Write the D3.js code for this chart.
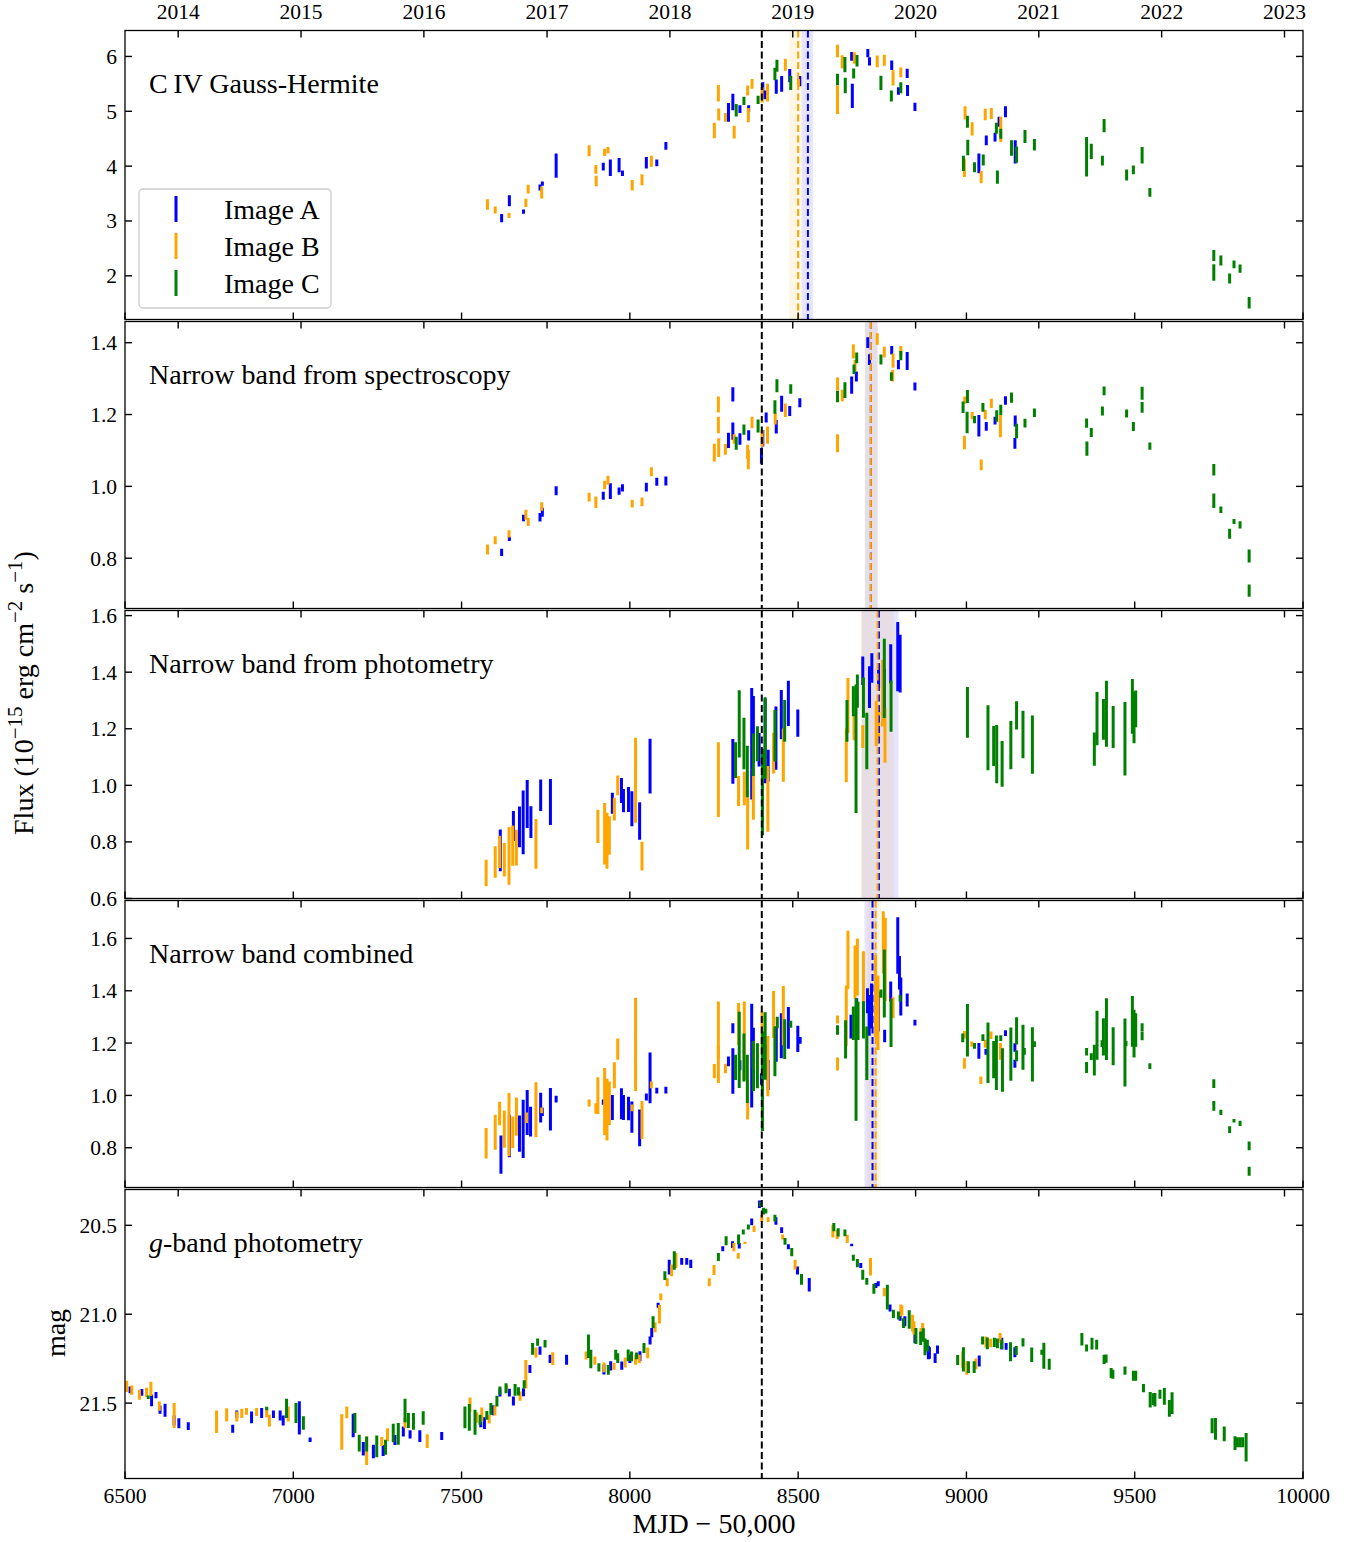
<!DOCTYPE html>
<html><head><meta charset="utf-8">
<script src="https://cdn.jsdelivr.net/npm/d3@7"></script>
<style>
body{margin:0;background:#fff}
svg{display:block}
text{font-family:"Liberation Serif","Times New Roman",serif;fill:#000}
</style></head>
<body><svg id="c" width="1357" height="1542"></svg>
<script>
// ---------- DATA: [MJD-50000, value, error] ----------
const civA=[[7619,3.05,.075],[7642,3.37,.1],[7684,3.17,.04],[7733,3.61,.055],[7740,3.68,.04],[7781,4.01,.22],[7921,3.99,.07],[7942,3.97,.15],[7968,4.02,.13],[7978,3.87,.05],[8049,4.06,.105],[8080,4.06,.06],[8107,4.37,.07],[8293,4.98,.17],[8306,5.17,.15],[8327,5.04,.07],[8353,5.05,.06],[8395,5.38,.15],[8401,5.30,.08],[8435,5.45,.13],[8451,5.50,.145],[8475,5.65,.12],[8505,5.55,.095],[8659,6.0,.08],[8661,5.28,.22],[8707,6.06,.075],[8712,5.91,.075],[8778,5.84,.085],[8798,5.37,.07],[8824,5.69,.085],[8825,5.38,.1],[8847,5.08,.075],[9037,4.05,.18],[9059,4.47,.09],[9085,4.53,.08],[9097,4.81,.09],[9116,4.99,.1],[9145,4.26,.21]];
const civB=[[7577,3.30,.095],[7600,3.20,.065],[7641,3.10,.045],[7691,3.33,.075],[7698,3.58,.08],[7738,3.52,.11],[7879,4.28,.1],[7899,3.94,.08],[7900,3.73,.095],[7925,4.25,.067],[7935,4.29,.06],[8007,3.65,.095],[8036,3.75,.1],[8064,4.09,.1],[8251,4.65,.14],[8263,5.33,.15],[8264,4.94,.11],[8284,4.89,.08],[8310,4.62,.115],[8350,5.38,.09],[8352,4.93,.13],[8363,5.50,.09],[8393,5.30,.14],[8409,5.34,.16],[8462,5.85,.11],[8501,5.52,.07],[8617,6.10,.115],[8617,5.21,.26],[8631,5.90,.12],[8667,5.97,.105],[8735,5.91,.105],[8756,5.93,.1],[8782,5.61,.14],[8805,5.71,.09],[8994,3.97,.17],[8996,4.97,.12],[9017,4.68,.12],[9044,3.80,.11],[9056,4.94,.105],[9074,4.96,.1],[9102,4.67,.23]];
const civC=[[8316,5.02,.115],[8339,5.19,.075],[8381,5.21,.075],[8431,5.68,.115],[8437,5.83,.11],[8478,5.52,.13],[8617,5.58,.105],[8639,5.85,.14],[8640,5.47,.14],[8665,5.69,.09],[8675,5.92,.105],[8746,5.52,.13],[8777,5.28,.1],[8805,5.43,.1],[8991,4.05,.14],[9003,4.81,.11],[9004,4.34,.14],[9024,3.98,.09],[9050,4.11,.1],[9089,4.69,.1],[9092,3.80,.12],[9102,4.59,.09],[9134,4.33,.14],[9149,4.21,.15],[9174,4.54,.12],[9202,4.39,.105],[9357,4.17,.36],[9371,4.27,.14],[9404,4.10,.09],[9409,4.74,.12],[9476,3.84,.1],[9496,3.93,.08],[9522,4.20,.15],[9545,3.52,.08],[9735,2.37,.1],[9735,2.06,.15],[9756,2.28,.09],[9782,1.95,.09],[9795,2.21,.07],[9813,2.13,.075],[9840,1.51,.105]];

const specA=[[7619,0.816,.01],[7642,0.854,.006],[7684,0.912,.009],[7733,0.914,.012],[7740,0.928,.0125],[7781,0.988,.0125],[7921,0.974,.011],[7942,0.987,.022],[7968,0.987,.01],[7978,0.996,.01],[8049,0.998,.012],[8080,1.013,.011],[8107,1.015,.0125],[8293,1.128,.021],[8306,1.256,.02],[8306,1.154,.024],[8327,1.132,.016],[8353,1.142,.014],[8391,1.085,.022],[8395,1.134,.023],[8405,1.192,.014],[8435,1.166,.019],[8451,1.23,.022],[8475,1.21,.014],[8505,1.233,.0125],[8659,1.282,.024],[8673,1.306,.014],[8707,1.40,.015],[8712,1.353,.015],[8778,1.379,.012],[8798,1.339,.013],[8824,1.349,.025],[8847,1.278,.011],[9037,1.169,.03],[9059,1.167,.012],[9085,1.183,.011],[9116,1.239,.012],[9145,1.182,.015],[9144,1.12,.015]];
const specB=[[7577,0.824,.014],[7600,0.85,.011],[7641,0.868,.01],[7691,0.921,.014],[7698,0.901,.011],[7738,0.944,.012],[7879,0.97,.012],[7899,0.956,.016],[7925,1.004,.012],[7935,1.017,.0125],[8007,0.952,.011],[8036,0.957,.012],[8064,1.041,.0125],[8251,1.094,.025],[8263,1.228,.022],[8263,1.171,.023],[8264,1.108,.026],[8284,1.103,.015],[8310,1.132,.013],[8350,1.096,.02],[8352,1.075,.027],[8363,1.178,.016],[8393,1.134,.023],[8409,1.143,.024],[8432,1.188,.016],[8462,1.212,.019],[8617,1.285,.018],[8617,1.12,.025],[8631,1.253,.016],[8664,1.376,.02],[8669,1.336,.016],[8735,1.41,.016],[8756,1.374,.015],[8781,1.308,.016],[8782,1.35,.02],[8805,1.378,.013],[8994,1.122,.019],[8995,1.24,.01],[9017,1.197,.01],[9044,1.06,.015],[9056,1.20,.013],[9074,1.231,.013],[9101,1.168,.031]];
const specC=[[8316,1.12,.018],[8339,1.158,.014],[8381,1.168,.018],[8431,1.221,.019],[8437,1.28,.018],[8478,1.271,.013],[8617,1.25,.016],[8639,1.268,.022],[8666,1.326,.013],[8674,1.358,.015],[8746,1.353,.014],[8777,1.306,.012],[8805,1.364,.013],[8990,1.22,.016],[9002,1.178,.03],[9003,1.25,.018],[9024,1.186,.01],[9049,1.22,.012],[9090,1.196,.016],[9102,1.213,.014],[9134,1.247,.014],[9149,1.154,.02],[9174,1.176,.012],[9202,1.205,.012],[9357,1.176,.013],[9358,1.105,.02],[9371,1.15,.0125],[9404,1.21,.0125],[9409,1.266,.012],[9476,1.203,.011],[9496,1.167,.0125],[9522,1.259,.018],[9522,1.22,.015],[9545,1.112,.01],[9735,1.046,.016],[9735,0.96,.02],[9756,0.935,.009],[9782,0.868,.014],[9795,0.902,.007],[9813,0.893,.01],[9840,0.806,.018],[9840,0.71,.017]];

const photA=[[7615,0.77,.074],[7654,0.856,.053],[7672,0.853,.072],[7683,0.869,.113],[7695,0.934,.085],[7706,0.87,.056],[7735,0.965,.056],[7764,0.941,.081],[7948,0.937,.037],[7975,0.982,.044],[7981,0.946,.041],[7996,0.95,.044],[8006,0.917,.062],[8029,0.874,.066],[8060,1.068,.097],[8306,1.085,.079],[8362,1.147,.197],[8367,1.198,.118],[8384,1.126,.059],[8402,1.157,.15],[8411,1.07,.056],[8434,1.167,.112],[8450,1.25,.087],[8471,1.29,.08],[8499,1.22,.048],[8692,1.405,.05],[8712,1.347,.074],[8719,1.415,.052],[8739,1.386,.041],[8756,1.327,.085],[8775,1.43,.069],[8796,1.455,.122],[8803,1.43,.102]];
const photB=[[7573,0.69,.047],[7600,0.729,.056],[7613,0.765,.057],[7627,0.737,.059],[7641,0.751,.102],[7652,0.787,.071],[7663,0.78,.063],[7721,0.793,.088],[7905,0.855,.059],[7925,0.829,.109],[7932,0.804,.099],[7939,0.823,.068],[7954,0.916,.04],[7964,1.0,.035],[8017,1.018,.15],[8036,0.75,.051],[8263,1.02,.132],[8323,0.98,.053],[8340,0.989,.059],[8350,0.876,.103],[8367,0.969,.091],[8410,0.952,.116],[8427,1.114,.072],[8456,1.107,.094],[8643,1.106,.095],[8648,1.282,.097],[8666,1.206,.047],[8692,1.172,.04],[8732,1.218,.08],[8739,1.216,.059],[8751,1.326,.118],[8758,1.177,.097]];
const photC=[[8314,1.089,.063],[8325,1.217,.119],[8339,1.148,.091],[8349,1.049,.091],[8367,1.108,.075],[8379,1.147,.062],[8394,0.976,.152],[8402,1.167,.144],[8431,1.175,.091],[8460,1.228,.074],[8645,1.228,.074],[8664,1.297,.053],[8672,1.129,.227],[8676,1.333,.059],[8694,1.31,.071],[8704,1.157,.1],[8756,1.378,.14],[8776,1.28,.091],[9003,1.258,.09],[9064,1.168,.115],[9081,1.139,.071],[9090,1.11,.103],[9106,1.076,.081],[9132,1.142,.085],[9149,1.247,.05],[9168,1.18,.084],[9196,1.144,.103],[9380,1.128,.059],[9388,1.236,.094],[9407,1.233,.072],[9416,1.253,.117],[9436,1.206,.074],[9471,1.165,.13],[9493,1.279,.097],[9498,1.24,.091],[9503,1.27,.065]];

const combA=[[7617,0.774,.073],[7642,0.845,.081],[7672,0.854,.069],[7683,0.872,.111],[7695,0.935,.086],[7705,0.9,.057],[7735,0.953,.057],[7740,0.937,.016],[7764,0.947,.081],[7781,0.986,.013],[7921,0.974,.01],[7948,0.954,.048],[7975,0.968,.059],[7981,0.954,.048],[7996,0.95,.045],[8006,0.917,.06],[8029,0.876,.07],[8049,0.994,.013],[8060,1.067,.097],[8080,1.018,.011],[8107,1.02,.013],[8293,1.13,.019],[8306,1.257,.019],[8306,1.093,.087],[8327,1.115,.019],[8362,1.152,.198],[8367,1.138,.121],[8391,1.063,.022],[8402,1.13,.064],[8411,1.078,.057],[8435,1.196,.067],[8450,1.228,.086],[8471,1.258,.08],[8499,1.216,.05],[8506,1.21,.013],[8657,1.263,.045],[8674,1.32,.051],[8706,1.362,.048],[8711,1.306,.078],[8718,1.342,.086],[8738,1.32,.076],[8757,1.227,.024],[8775,1.397,.038],[8796,1.573,.108],[8801,1.469,.064],[8805,1.378,.073],[8824,1.365,.025],[8847,1.278,.011],[9037,1.17,.03],[9058,1.166,.011],[9116,1.238,.011],[9144,1.183,.016],[9144,1.121,.015]];
const combB=[[7573,0.817,.058],[7600,0.859,.067],[7613,0.931,.045],[7627,0.871,.071],[7641,0.888,.121],[7652,0.859,.06],[7663,0.919,.073],[7693,0.915,.02],[7721,0.945,.105],[7738,0.943,.011],[7879,0.971,.013],[7899,0.95,.02],[7905,0.999,.07],[7925,0.977,.128],[7932,0.946,.118],[7939,0.97,.083],[7954,1.077,.05],[7964,1.177,.041],[8007,0.952,.013],[8017,1.195,.178],[8036,0.906,.073],[8064,1.04,.013],[8251,1.093,.027],[8263,1.252,.107],[8263,1.12,.073],[8284,1.103,.018],[8323,1.273,.08],[8340,1.209,.15],[8350,0.984,.076],[8367,1.155,.051],[8393,1.238,.083],[8410,1.112,.115],[8427,1.309,.09],[8456,1.305,.113],[8617,1.29,.015],[8617,1.12,.025],[8643,1.305,.115],[8648,1.518,.111],[8669,1.471,.102],[8676,1.491,.109],[8694,1.401,.15],[8730,1.379,.156],[8737,1.316,.142],[8753,1.585,.119],[8759,1.52,.159],[8782,1.335,.04],[8994,1.232,.014],[8994,1.122,.02],[9016,1.196,.01],[9043,1.058,.014],[9056,1.197,.015],[9073,1.23,.014],[9101,1.168,.032]];
const combC=[[8314,1.107,.048],[8325,1.174,.146],[8339,1.145,.092],[8349,1.063,.092],[8367,1.112,.095],[8379,1.113,.086],[8394,1.054,.19],[8402,1.189,.129],[8431,1.168,.095],[8438,1.279,.022],[8460,1.215,.076],[8478,1.272,.013],[8617,1.25,.018],[8641,1.214,.073],[8664,1.276,.064],[8672,1.137,.234],[8678,1.285,.073],[8694,1.289,.071],[8704,1.161,.102],[8746,1.389,.016],[8756,1.428,.13],[8776,1.277,.092],[8803,1.371,.013],[8989,1.22,.017],[9003,1.249,.1],[9024,1.189,.011],[9049,1.221,.013],[9064,1.163,.116],[9081,1.137,.071],[9089,1.125,.104],[9102,1.219,.011],[9107,1.097,.083],[9132,1.158,.102],[9149,1.247,.052],[9149,1.152,.021],[9168,1.184,.086],[9172,1.168,.013],[9196,1.157,.104],[9202,1.196,.011],[9357,1.167,.014],[9357,1.107,.021],[9371,1.148,.013],[9380,1.135,.059],[9388,1.23,.094],[9403,1.198,.013],[9407,1.224,.071],[9416,1.253,.118],[9436,1.188,.073],[9471,1.164,.13],[9474,1.198,.01],[9493,1.283,.097],[9498,1.236,.091],[9503,1.25,.064],[9522,1.26,.016],[9522,1.227,.016],[9545,1.112,.011],[9735,1.045,.017],[9735,0.96,.019],[9756,0.935,.01],[9782,0.869,.013],[9795,0.903,.007],[9813,0.893,.01],[9840,0.807,.017],[9840,0.71,.017]];

const gA=[[6515,21.425,.019],[6550,21.44,.019],[6579,21.485,.033],[6592,21.455,.017],[6604,21.537,.023],[6619,21.54,.037],[6646,21.598,.028],[6660,21.613,.028],[6688,21.629,.022],[6820,21.644,.023],[6832,21.563,.021],[6876,21.58,.033],[6906,21.556,.028],[6941,21.563,.021],[6961,21.57,.028],[6970,21.598,.028],[7018,21.583,.094],[7050,21.706,.013],[7178,21.626,.066],[7208,21.757,.038],[7238,21.772,.038],[7267,21.767,.031],[7302,21.707,.028],[7327,21.66,.028],[7347,21.676,.023],[7376,21.686,.033],[7441,21.685,.023],[7557,21.62,.016],[7568,21.613,.033],[7594,21.54,.028],[7614,21.441,.022],[7642,21.441,.022],[7654,21.488,.025],[7684,21.439,.023],[7703,21.308,.023],[7733,21.205,.023],[7763,21.251,.023],[7812,21.256,.028],[7923,21.311,.028],[7943,21.29,.026],[7976,21.289,.023],[8000,21.251,.023],[8030,21.236,.028],[8060,21.148,.023],[8065,21.104,.026],[8084,20.95,.014],[8117,20.735,.042],[8154,20.703,.019],[8169,20.703,.019],[8181,20.717,.023],[8276,20.632,.014],[8305,20.609,.019],[8325,20.615,.016],[8362,20.48,.019],[8385,20.382,.021],[8434,20.476,.021],[8451,20.527,.016],[8471,20.621,.014],[8498,20.754,.023],[8533,20.834,.038],[8659,20.611,.007],[8686,20.726,.014],[8731,20.839,.014],[8738,20.829,.014],[8773,20.965,.019],[8803,21.02,.017],[8817,21.04,.028],[8847,21.13,.033],[8887,21.215,.038],[8890,21.218,.032],[8907,21.247,.028],[8914,21.199,.023],[9038,21.263,.031],[9105,21.166,.033],[9118,21.181,.019],[9144,21.214,.028]];
const gB=[[6505,21.406,.032],[6520,21.427,.026],[6543,21.453,.028],[6564,21.44,.026],[6577,21.42,.04],[6602,21.517,.026],[6646,21.57,.07],[6772,21.605,.063],[6802,21.566,.037],[6832,21.575,.028],[6847,21.558,.026],[6861,21.547,.019],[6891,21.55,.023],[6921,21.556,.023],[6929,21.598,.033],[6985,21.561,.042],[7144,21.662,.1],[7159,21.552,.033],[7218,21.768,.08],[7263,21.716,.025],[7280,21.678,.037],[7332,21.613,.028],[7398,21.714,.039],[7525,21.51,.041],[7545,21.581,.03],[7560,21.563,.039],[7582,21.59,.025],[7599,21.542,.028],[7634,21.415,.019],[7674,21.46,.026],[7691,21.338,.08],[7721,21.215,.028],[7771,21.25,.036],[7870,21.232,.023],[7896,21.261,.023],[7923,21.299,.028],[7953,21.293,.019],[7986,21.272,.028],[8017,21.256,.028],[8028,21.251,.023],[8053,21.217,.03],[8075,21.074,.028],[8088,21.0,.052],[8092,20.902,.019],[8111,20.82,.023],[8124,20.754,.033],[8137,20.698,.042],[8236,20.82,.023],[8250,20.751,.028],[8309,20.623,.023],[8322,20.672,.016],[8342,20.599,.006],[8369,20.52,.017],[8392,20.461,.02],[8411,20.468,.013],[8454,20.566,.014],[8491,20.721,.028],[8603,20.534,.034],[8616,20.551,.026],[8646,20.576,.023],[8715,20.733,.049],[8756,20.876,.023],[8805,20.979,.033],[8808,20.978,.028],[8840,21.05,.047],[8844,21.078,.038],[8865,21.106,.028],[8870,21.097,.047],[8989,21.256,.047],[9001,21.303,.038],[9028,21.279,.03],[9058,21.156,.031],[9072,21.162,.024],[9100,21.134,.028]];
const gC=[[6569,21.467,.01],[6921,21.53,.01],[6980,21.53,.054],[7008,21.556,.056],[7030,21.612,.038],[7183,21.612,.056],[7196,21.725,.047],[7218,21.73,.042],[7248,21.743,.061],[7274,21.748,.042],[7297,21.668,.052],[7312,21.673,.061],[7332,21.542,.066],[7342,21.598,.042],[7357,21.603,.047],[7386,21.584,.038],[7510,21.58,.061],[7523,21.58,.075],[7540,21.608,.07],[7555,21.594,.028],[7575,21.569,.025],[7587,21.532,.033],[7605,21.489,.03],[7614,21.43,.023],[7632,21.416,.028],[7659,21.425,.033],[7669,21.434,.023],[7686,21.394,.023],[7711,21.195,.033],[7726,21.157,.021],[7748,21.166,.021],[7877,21.18,.066],[7884,21.252,.052],[7908,21.299,.023],[7936,21.313,.028],[7958,21.228,.028],[7964,21.247,.028],[7995,21.232,.033],[8005,21.237,.028],[8020,21.234,.019],[8042,21.19,.028],[8069,21.045,.033],[8104,20.783,.025],[8132,20.698,.052],[8263,20.678,.022],[8286,20.587,.025],[8323,20.58,.028],[8337,20.537,.014],[8352,20.51,.014],[8388,20.38,.014],[8397,20.42,.019],[8404,20.42,.013],[8431,20.459,.019],[8461,20.59,.019],[8481,20.651,.023],[8510,20.804,.03],[8606,20.51,.023],[8619,20.54,.023],[8639,20.543,.019],[8664,20.682,.017],[8676,20.713,.023],[8692,20.778,.028],[8704,20.815,.019],[8725,20.857,.028],[8765,20.904,.07],[8783,20.998,.023],[8798,21.007,.023],[8813,21.05,.028],[8830,21.03,.052],[8850,21.122,.045],[8864,21.135,.038],[8872,21.117,.038],[8877,21.184,.047],[8884,21.176,.033],[8974,21.257,.028],[8991,21.254,.068],[9006,21.298,.033],[9023,21.298,.033],[9048,21.148,.023],[9062,21.164,.033],[9083,21.159,.026],[9092,21.164,.028],[9105,21.169,.026],[9131,21.211,.053],[9148,21.204,.025],[9168,21.158,.023],[9194,21.228,.041],[9224,21.214,.014],[9230,21.234,.073],[9246,21.282,.031],[9343,21.141,.035],[9357,21.19,.019],[9373,21.166,.033],[9387,21.171,.028],[9409,21.254,.026],[9415,21.25,.023],[9430,21.331,.028],[9435,21.338,.025],[9471,21.317,.023],[9496,21.346,.028],[9503,21.346,.028],[9526,21.416,.023],[9546,21.481,.043],[9555,21.477,.033],[9560,21.481,.038],[9575,21.45,.025],[9588,21.462,.047],[9603,21.53,.047],[9611,21.5,.061],[9730,21.627,.042],[9740,21.645,.061],[9766,21.673,.042],[9798,21.725,.038],[9805,21.72,.028],[9813,21.72,.028],[9821,21.72,.028],[9831,21.748,.08]];

// time-delay markers: [center, low, high]
const peakMJD=8392;
const lagsA=[[8529,8511,8544],[8716,8699,8736],[8740,8689,8798],[8721,8697,8735]];
const lagsB=[[8500,8473,8511],[8716,8699,8736],[8736,8686,8784],[8730,8705,8746]];

const seriesNames=["Image A","Image B","Image C"];
const colors=["#0000ff","#ffa500","#008000"];
const xTicks=[6500,7000,7500,8000,8500,9000,9500,10000];
const yearLabels=["2014","2015","2016","2017","2018","2019","2020","2021","2022","2023"];
const yearMJD=[6658,7023,7388,7754,8119,8484,8849,9215,9580,9945];
const titles=["C\u2009IV Gauss-Hermite","Narrow band from spectroscopy","Narrow band from photometry","Narrow band combined","g-band photometry"];

// ---------- LAYOUT ----------
const svg=d3.select("#c");
const x=d3.scaleLinear([6500,10000],[125,1303]);
const panels=[
 {top:30.5,bot:319.5,dom:[1.2035,6.473],ticks:[2,3,4,5,6],fmt:d3.format("d"),data:[civA,civB,civC]},
 {top:321.5,bot:608.5,dom:[0.66,1.459],ticks:[0.8,1.0,1.2,1.4],fmt:d3.format(".1f"),data:[specA,specB,specC]},
 {top:610.5,bot:898.5,dom:[0.6,1.618],ticks:[0.6,0.8,1.0,1.2,1.4,1.6],fmt:d3.format(".1f"),data:[photA,photB,photC]},
 {top:900.5,bot:1187.5,dom:[0.648,1.745],ticks:[0.8,1.0,1.2,1.4,1.6],fmt:d3.format(".1f"),data:[combA,combB,combC]},
 {top:1189.5,bot:1478.5,dom:[21.924,20.2985],ticks:[20.5,21.0,21.5],fmt:d3.format(".1f"),data:[gA,gB,gC]}
];
const TL=7;

panels.forEach((p,i)=>{
  const y=d3.scaleLinear(p.dom,[p.bot,p.top]);
  const g=svg.append("g");
  const cid="clip"+i;
  svg.append("clipPath").attr("id",cid).append("rect")
    .attr("x",125).attr("y",p.top).attr("width",1178).attr("height",p.bot-p.top);
  const plot=g.append("g").attr("clip-path",`url(#${cid})`);
  if(i<4){
    [[lagsA[i],colors[0]],[lagsB[i],colors[1]]].forEach(([l,c])=>{
      plot.append("rect").attr("x",x(l[1])).attr("width",x(l[2])-x(l[1]))
        .attr("y",p.top).attr("height",p.bot-p.top).attr("fill",c).attr("fill-opacity",0.1);
    });
  }
  p.data.forEach((ser,k)=>{
    plot.append("g").selectAll("line").data(ser).join("line")
      .attr("x1",d=>x(d[0])).attr("x2",d=>x(d[0]))
      .attr("y1",d=>y(d[1]-d[2])).attr("y2",d=>y(d[1]+d[2]))
      .attr("stroke",colors[k]).attr("stroke-width",3);
  });
  plot.append("line").attr("x1",x(peakMJD)).attr("x2",x(peakMJD)).attr("y1",p.top).attr("y2",p.bot)
    .attr("stroke","#000").attr("stroke-width",2).attr("stroke-dasharray","7,3.5");
  if(i<4){
    [[lagsA[i],colors[0]],[lagsB[i],colors[1]]].forEach(([l,c])=>{
      plot.append("line").attr("x1",x(l[0])).attr("x2",x(l[0])).attr("y1",p.top).attr("y2",p.bot)
        .attr("stroke",c).attr("stroke-width",2).attr("stroke-dasharray","7,3.5");
    });
  }
  const tk=g.append("g").attr("stroke","#000").attr("stroke-width",1.4);
  xTicks.forEach(t=>{tk.append("line").attr("x1",x(t)).attr("x2",x(t)).attr("y1",p.bot).attr("y2",p.bot-TL);});
  yearMJD.forEach(t=>{tk.append("line").attr("x1",x(t)).attr("x2",x(t)).attr("y1",p.top).attr("y2",p.top+TL);});
  p.ticks.forEach(t=>{
    tk.append("line").attr("x1",125).attr("x2",125+TL).attr("y1",y(t)).attr("y2",y(t));
    tk.append("line").attr("x1",1303).attr("x2",1303-TL).attr("y1",y(t)).attr("y2",y(t));
    g.append("text").attr("x",117).attr("y",y(t)).attr("dy","0.35em").attr("text-anchor","end")
      .attr("font-size",21.5).text(p.fmt(t));
  });
  g.append("rect").attr("x",125).attr("y",p.top).attr("width",1178).attr("height",p.bot-p.top)
    .attr("fill","none").attr("stroke","#000").attr("stroke-width",1.3);
  const tt=g.append("text").attr("x",149).attr("y",p.top+62.5).attr("font-size",28);
  if(i===4){tt.append("tspan").attr("font-style","italic").text("g");tt.append("tspan").text("-band photometry");}
  else tt.text(titles[i]);
});

yearMJD.forEach((t,j)=>{
  svg.append("text").attr("x",x(t)).attr("y",18.5).attr("text-anchor","middle").attr("font-size",21.5).text(yearLabels[j]);
});
xTicks.forEach(t=>{
  svg.append("text").attr("x",x(t)).attr("y",1503).attr("text-anchor","middle").attr("font-size",21.5).text(t);
});
svg.append("text").attr("x",714).attr("y",1533).attr("text-anchor","middle").attr("font-size",28).text("MJD \u2212 50,000");
const fl=svg.append("text").attr("transform","translate(33,693) rotate(-90)").attr("text-anchor","middle").attr("font-size",28);
fl.append("tspan").text("Flux (10");
fl.append("tspan").attr("font-size",21).attr("dy",-11).text("\u221215");
fl.append("tspan").attr("dy",11).text(" erg cm");
fl.append("tspan").attr("font-size",21).attr("dy",-11).text("\u22122");
fl.append("tspan").attr("dy",11).text(" s");
fl.append("tspan").attr("font-size",21).attr("dy",-11).text("\u22121");
fl.append("tspan").attr("dy",11).text(")");
svg.append("text").attr("transform","translate(65,1333) rotate(-90)").attr("text-anchor","middle").attr("font-size",28).text("mag");

const lg=svg.append("g");
lg.append("rect").attr("x",139).attr("y",189).attr("width",192).attr("height",119).attr("rx",4)
  .attr("fill","#fff").attr("fill-opacity",0.8).attr("stroke","#cccccc").attr("stroke-width",1.3);
seriesNames.forEach((n,k)=>{
  const cy=209+k*37;
  lg.append("line").attr("x1",176).attr("x2",176).attr("y1",cy-13).attr("y2",cy+13).attr("stroke",colors[k]).attr("stroke-width",3);
  lg.append("text").attr("x",224).attr("y",cy+10).attr("font-size",28).text(n);
});
</script>
</body></html>
